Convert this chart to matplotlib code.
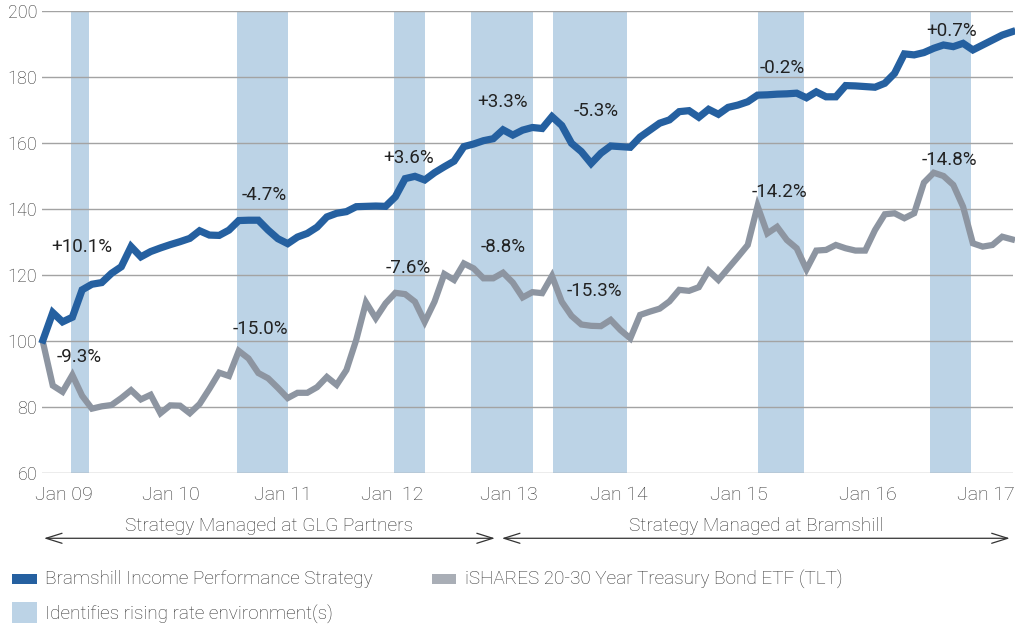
import matplotlib
matplotlib.use("Agg")
import matplotlib.pyplot as plt
from matplotlib.patches import Rectangle
import numpy as np

plt.rcParams['font.family'] = ['Roboto', 'DejaVu Sans']

# monthly index values, growth of 100
bramshill = [
    100.3, 108.6, 105.8, 107.2, 115.5, 117.2, 117.7, 120.5, 122.5, 128.6,
    125.5, 127.1, 128.2, 129.2, 130.1, 131.1, 133.4, 132.1, 132.0, 133.6,
    136.5, 136.6, 136.6, 133.6, 131.0, 129.5, 131.5, 132.6, 134.5, 137.6,
    138.7, 139.2, 140.7, 140.8, 140.9, 140.8, 143.7, 149.2, 149.9, 148.8,
    151.0, 152.8, 154.5, 158.9, 159.7, 160.7, 161.3, 164.0, 162.4, 163.9,
    164.7, 164.4, 168.0, 165.3, 159.9, 157.4, 153.8, 156.9, 159.1, 158.9,
    158.7, 161.8, 163.9, 166.0, 167.0, 169.5, 169.8, 167.8, 170.2, 168.7,
    170.8, 171.5, 172.5, 174.5, 174.6, 174.8, 174.9, 175.1, 173.7, 175.5,
    174.0, 174.0, 177.4, 177.3, 177.1, 176.9, 178.1, 181.1, 187.0, 186.7,
    187.4, 188.7, 189.7, 189.2, 190.2, 188.2, 189.7, 191.2, 192.7, 193.7,
]
tlt = [
    99.6, 86.5, 84.6, 89.7, 83.4, 79.5, 80.2, 80.6, 82.7, 85.1,
    82.3, 83.7, 78.1, 80.5, 80.4, 78.1, 80.9, 85.5, 90.4, 89.4,
    97.0, 94.7, 90.3, 88.7, 85.8, 82.7, 84.3, 84.3, 86.0, 89.1,
    86.7, 91.2, 100.3, 111.7, 106.9, 111.4, 114.6, 114.2, 111.9, 105.8,
    111.9, 120.3, 118.5, 123.5, 122.0, 119.0, 119.0, 120.7, 117.7, 113.2,
    114.8, 114.5, 119.7, 111.9, 107.6, 105.0, 104.6, 104.5, 106.4, 103.3,
    100.8, 107.9, 108.9, 109.8, 112.0, 115.5, 115.2, 116.3, 121.3, 118.5,
    122.0, 125.5, 129.1, 140.9, 132.6, 134.6, 130.6, 128.1, 121.7, 127.4,
    127.6, 129.1, 128.1, 127.4, 127.4, 133.6, 138.4, 138.7, 137.2, 138.7,
    148.0, 151.0, 150.0, 147.3, 140.7, 129.6, 128.6, 129.1, 131.6, 130.8,
]
months = np.arange(len(bramshill))

tick_pos = [2.15, 13.07, 24.51, 35.65, 47.6, 58.84, 71.09, 84.27, 96.32]
tick_labels = ["Jan 09", "Jan 10", "Jan 11", "Jan  12", "Jan 13",
               "Jan 14", "Jan 15", "Jan 16", "Jan 17"]

# rising rate periods (start, end) in month index
rising_rates = [(2.86, 4.73), (19.82, 25.0), (35.85, 38.99), (43.72, 50.02),
                (52.09, 59.62), (73.0, 77.7), (90.6, 94.86)]

# period returns: (text, x, baseline y)
strategy_returns = [("+10.1%", 4.0, 127.1), ("-4.7%", 22.6, 142.7), ("+3.6%", 37.35, 154.0),
                    ("+3.3%", 46.94, 171.0), ("-5.3%", 56.47, 168.2), ("-0.2%", 75.48, 181.3),
                    ("+0.7%", 92.85, 192.4)]
tlt_returns = [("-9.3%", 3.75, 93.7), ("-15.0%", 22.17, 102.1), ("-7.6%", 37.31, 120.5),
               ("-8.8%", 47.06, 127.1), ("-15.3%", 56.35, 113.6), ("-14.2%", 75.2, 143.7),
               ("-14.8%", 92.6, 153.3)]

# manager periods: (text, start, end)
periods = [("Strategy Managed at GLG Partners", 0.1, 46.17),
           ("Strategy Managed at Bramshill", 46.88, 98.77)]

BLUE = "#2560a0"
GRAY = "#8d95a1"
SHADE = "#bcd3e6"
TXT = "#333333"

W, H = 1015, 626
fig = plt.figure(figsize=(W / 100, H / 100), dpi=100)
ax = fig.add_axes([42 / W, 1 - 473 / H, 971 / W, 462 / H])

for a, b in rising_rates:
    ax.axvspan(a, b, color=SHADE, lw=0, zorder=0.5)
for y in range(60, 201, 20):
    ax.axhline(y, color="#a3a3a3", lw=1.0, zorder=1)

ax.plot(months, tlt, color=GRAY, lw=4.5, zorder=3, clip_on=False, solid_joinstyle="miter")
ax.plot(months, bramshill, color=BLUE, lw=5.2, zorder=4, clip_on=False, solid_joinstyle="miter")

for s, x, y in strategy_returns + tlt_returns:
    ax.text(x, y, s, ha="center", va="baseline", fontsize=13.5, color="#222222", zorder=5)

ax.set_xlim(-0.1, 99.1)
ax.set_ylim(60, 200)
ax.set_yticks(range(60, 201, 20))
ax.set_xticks(tick_pos)
ax.set_xticklabels(tick_labels)
ax.tick_params(length=0, labelsize=14, labelcolor=TXT)
ax.tick_params(axis="y", pad=3.5, labelsize=13)
ax.tick_params(axis="x", pad=9)
for lab in ax.get_xticklabels() + ax.get_yticklabels():
    lab.set_fontweight("light")
for sp in ax.spines.values():
    sp.set_visible(False)

trans = ax.get_xaxis_transform()
for s, a, b in periods:
    ax.annotate("", xy=(b, -0.1413), xytext=(a, -0.1413), xycoords=trans, textcoords=trans,
                arrowprops=dict(arrowstyle="<->,head_length=1.15,head_width=0.36",
                                mutation_scale=10, lw=0.9, color=TXT, shrinkA=0, shrinkB=0),
                annotation_clip=False)
    ax.text((a + b) / 2, -0.1249, s, transform=trans, ha="center", va="baseline",
            fontsize=13.8, color=TXT, fontweight="light")

# legend built by hand to match the layout
legend_items = [(11.7, 574.3, 25, 10, BLUE, "Bramshill Income Performance Strategy", 45, 584.3),
                (431.7, 574.3, 24.3, 10, "#a9aeb6", "iSHARES 20-30 Year Treasury Bond ETF (TLT)", 465, 584.3),
                (11.7, 601.7, 25, 21.6, SHADE, "Identifies rising rate environment(s)", 45, 620)]
for x, y, w, h, c, s, tx, ty in legend_items:
    fig.add_artist(Rectangle((x / W, 1 - (y + h) / H), w / W, h / H,
                             transform=fig.transFigure, color=c, lw=0))
    fig.text(tx / W, 1 - ty / H, s, va="baseline", fontsize=13.7, color=TXT, fontweight="light")

fig.savefig("out.png", dpi=100)
